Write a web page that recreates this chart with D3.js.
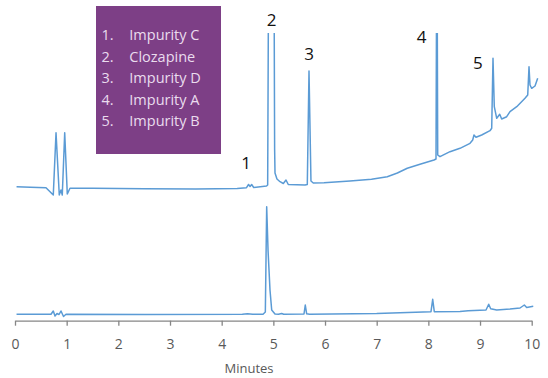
<!DOCTYPE html>
<html>
<head>
<meta charset="utf-8">
<script src="https://cdn.jsdelivr.net/npm/d3@7"></script>
<style>
  html, body { margin: 0; padding: 0; background: #fff; }
  svg { display: block; }
</style>
</head>
<body>
<svg id="chart" width="548" height="378"></svg>
<script>
// Retention time axis (minutes)
const tickValues = [0, 1, 2, 3, 4, 5, 6, 7, 8, 9, 10];
const tickLabels = ["0", "1", "2", "3", "4", "5", "6", "7", "8", "9", "10"];
const axisTitle = "Minutes";

// Upper chromatogram (spiked sample, offset upward): time in minutes, signal in mAU
const upperTime = [0.03, 0.3, 0.6, 0.741, 0.794, 0.857, 0.89, 0.915, 0.962, 1.012, 1.064,
  1.5, 2.5, 3.5, 4.3, 4.48, 4.52, 4.55, 4.58, 4.62, 4.868, 4.89, 4.905, 4.96, 5.015, 5.025,
  5.032, 5.07, 5.129, 5.193, 5.245, 5.289, 5.613, 5.657, 5.69, 5.728, 5.773, 5.98, 6.483,
  6.9, 7.205, 7.4, 7.592, 7.838, 8.109, 8.148, 8.165, 8.181, 8.225, 8.419, 8.612, 8.806, 8.858, 8.883,
  8.922, 9.032, 9.193, 9.226, 9.251, 9.276, 9.323, 9.381, 9.419, 9.516, 9.58, 9.71, 9.87,
  9.923, 9.948, 9.967, 10.0, 10.064, 10.116];
const upperSignal = [135.3, 134.7, 134.2, 127, 189.3, 127, 132, 127, 189.3, 128, 133.7,
  133.7, 133.2, 133, 133.5, 134.3, 137.5, 135.5, 137.5, 134.5, 136, 137, 322, 522, 322, 172,
  149, 143, 140.3, 138.5, 142, 137.5, 137, 137.5, 251, 141, 139, 139.3, 141,
  142.8, 145.3, 149, 153.7, 157.8, 162, 163, 422, 167, 165.3, 170.3, 173.7, 178.7, 182, 187,
  184.7, 187, 191.3, 193.7, 263.7, 215.3, 203.7, 207.7, 203, 205.3, 210.3, 215.3, 223.7,
  227, 255.3, 237, 233.7, 236, 243.7];

// Lower chromatogram (sample)
const lowerTime = [0.03, 0.697, 0.741, 0.774, 0.813, 0.852, 0.89, 0.939, 0.987, 2.5, 4.4,
  4.5, 4.6, 4.8, 4.845, 4.871, 4.897, 4.935, 4.968, 5.032, 5.1, 5.161, 5.2, 5.593, 5.618,
  5.645, 5.7, 7.0, 8.051, 8.084, 8.115, 8.612, 8.77, 9.116, 9.168, 9.206, 9.323, 9.58,
  9.774, 9.857, 9.903, 10.03];
const lowerSignal = [7.7, 7.7, 11, 6, 8.5, 7.5, 11, 5.5, 7.7, 7.6, 7.7,
  8.2, 7.7, 7.8, 10, 115.3, 72, 32, 12, 8, 7.7, 8.5, 7.7, 8, 17,
  8.2, 7.8, 8.5, 10.3, 22.7, 10.3, 10.5, 11.2, 12, 17.7, 13.3, 12, 13,
  14, 17, 14.5, 15.7];

// Peak identification
const peakNumbers = ["1", "2", "3", "4", "5"];
const peakTimes = [4.55, 4.93, 5.69, 8.16, 9.25];
const compoundNames = ["Impurity C", "Clozapine", "Impurity D", "Impurity A", "Impurity B"];

const svg = d3.select("#chart");
const lineColor = "#5b9bd5";

const x = d3.scaleLinear().domain([0, 10]).range([15, 531.7]);
const y = d3.scaleLinear().domain([0, 300]).range([322, 22]);
const axisY = 320.7;

// Plot area clip: tall peaks run off the top of the frame
svg.append("defs").append("clipPath").attr("id", "plot-clip")
  .append("rect").attr("x", 0).attr("y", 33).attr("width", 548).attr("height", 345);

const line = d3.line()
  .x(d => x(d[0]))
  .y(d => y(d[1]));

const plot = svg.append("g").attr("clip-path", "url(#plot-clip)");

plot.append("path")
  .datum(d3.zip(lowerTime, lowerSignal))
  .attr("d", line)
  .attr("fill", "none")
  .attr("stroke", lineColor)
  .attr("stroke-width", 1.5)
  .attr("stroke-linejoin", "round");

plot.append("path")
  .datum(d3.zip(upperTime, upperSignal))
  .attr("d", line)
  .attr("fill", "none")
  .attr("stroke", lineColor)
  .attr("stroke-width", 1.5)
  .attr("stroke-linejoin", "round");

// Time axis
const axis = d3.axisBottom(x)
  .tickValues(tickValues)
  .tickFormat((d, i) => tickLabels[i])
  .tickSizeInner(5)
  .tickSizeOuter(0)
  .tickPadding(13.4);

const gAxis = svg.append("g")
  .attr("transform", `translate(0,${axisY})`)
  .call(axis);
gAxis.select(".domain").attr("stroke", "#868686").attr("stroke-width", 1.3);
gAxis.selectAll(".tick line").attr("stroke", "#868686").attr("stroke-width", 1.3);
gAxis.selectAll(".tick text")
  .attr("fill", "#595959")
  .style("font-family", "'Open Sans', sans-serif")
  .style("font-size", "14px");

svg.append("text")
  .attr("x", 249)
  .attr("y", 372.7)
  .attr("text-anchor", "middle")
  .attr("fill", "#595959")
  .style("font-family", "'Open Sans', sans-serif")
  .style("font-size", "13px")
  .text(axisTitle);

// Peak number labels
const labelOffsets = [[-4, 169.3], [2, 26], [0, 60], [-15, 42.7], [-15, 69.3]];
svg.append("g").selectAll("text")
  .data(peakNumbers)
  .join("text")
  .attr("x", (d, i) => x(peakTimes[i]) + labelOffsets[i][0])
  .attr("y", (d, i) => labelOffsets[i][1])
  .attr("text-anchor", "middle")
  .attr("fill", "#111")
  .style("font-family", "'Open Sans', sans-serif")
  .style("font-size", "17px")
  .text(d => d);

// Legend box listing compounds
const legend = svg.append("g");
legend.append("rect")
  .attr("x", 96).attr("y", 6)
  .attr("width", 125).attr("height", 148)
  .attr("fill", "#7d3f86");

const rows = legend.selectAll("g.row")
  .data(compoundNames)
  .join("g")
  .attr("class", "row")
  .attr("transform", (d, i) => `translate(0,${40 + i * 21.6})`);

rows.append("text")
  .attr("x", 101.5)
  .attr("fill", "#eadcee")
  .style("font-family", "'Open Sans', sans-serif")
  .style("font-size", "14.5px")
  .text((d, i) => peakNumbers[i] + ".");

rows.append("text")
  .attr("x", 129.3)
  .attr("fill", "#eadcee")
  .style("font-family", "'Open Sans', sans-serif")
  .style("font-size", "14.5px")
  .text(d => d);
</script>
</body>
</html>
